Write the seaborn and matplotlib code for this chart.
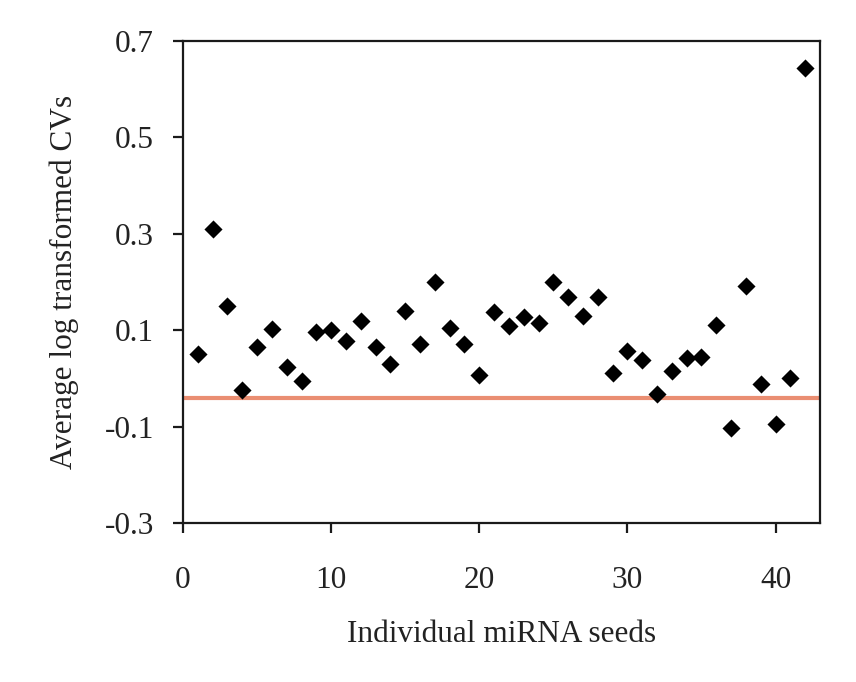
import matplotlib
matplotlib.use("Agg")
import matplotlib.pyplot as plt
import seaborn as sns
import pandas as pd

# Average log-transformed CV per miRNA seed (seeds numbered 1..42)
seed_index = list(range(1, 43))
avg_log_cv = [
    0.051, 0.309, 0.150, -0.025, 0.066, 0.103, 0.023, -0.006, 0.096, 0.100,
    0.078, 0.119, 0.065, 0.030, 0.140, 0.071, 0.199, 0.104, 0.071, 0.007,
    0.138, 0.109, 0.127, 0.115, 0.199, 0.169, 0.129, 0.168, 0.011, 0.057,
    0.038, -0.032, 0.015, 0.042, 0.045, 0.110, -0.103, 0.191, -0.012, -0.095,
    0.000, 0.643,
]
reference_level = -0.041

x_ticks = [0, 10, 20, 30, 40]
y_ticks = [-0.3, -0.1, 0.1, 0.3, 0.5, 0.7]
y_tick_labels = ["-0.3", "-0.1", "0.1", "0.3", "0.5", "0.7"]

df = pd.DataFrame({"seed": seed_index, "cv": avg_log_cv})

sns.set_style("ticks")
plt.rcParams["font.family"] = ["Liberation Serif", "DejaVu Serif"]
plt.rcParams["axes.linewidth"] = 1.6

fig = plt.figure(figsize=(8.56, 6.82), dpi=100)
ax = fig.add_axes([183 / 856, 1 - 523 / 682, (820 - 183) / 856, (523 - 41) / 682])

ax.axhline(reference_level, color="#EA8E72", linewidth=3.0, zorder=1)
sns.scatterplot(data=df, x="seed", y="cv", marker="D", color="black",
                s=85, linewidth=0, ax=ax, zorder=3)

ax.set_xlim(0, 43)
ax.set_ylim(-0.3, 0.7)
ax.set_xticks(x_ticks)
ax.set_yticks(y_ticks)
ax.set_yticklabels(y_tick_labels)

for side in ["top", "right", "left", "bottom"]:
    ax.spines[side].set_visible(True)
    ax.spines[side].set_color("#1a1a1a")
    ax.spines[side].set_linewidth(1.6)

ax.tick_params(axis="both", direction="out", length=7, width=1.6,
               colors="#1a1a1a", labelsize=22.5, labelcolor="#222222")
ax.tick_params(axis="x", pad=24, top=False)
ax.tick_params(axis="y", pad=14, right=False)

ax.set_xlabel("Individual miRNA seeds", fontsize=22.5, color="#222222", labelpad=18)
ax.set_ylabel("Average log transformed CVs", fontsize=22.5, color="#222222", labelpad=18)

fig.savefig("out.png", dpi=100, facecolor="white")
